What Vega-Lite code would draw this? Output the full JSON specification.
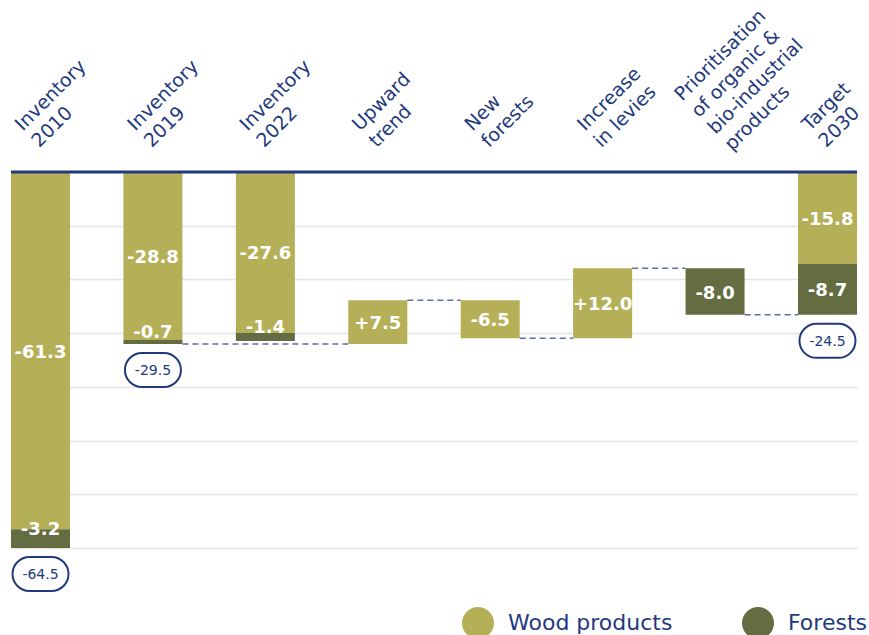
{
  "$schema": "https://vega.github.io/schema/vega-lite/v6.json",
  "autosize": {"type": "none"},
  "width": 846,
  "height": 376,
  "padding": {"left": 11, "top": 172, "right": 12, "bottom": 87},
  "background": "white",
  "config": {
    "view": {"stroke": null},
    "font": "DejaVu Sans",
    "axisX": {
      "orient": "top", "domain": false, "ticks": false, "tickSize": 0, "grid": false,
      "labelAngle": -45, "labelAlign": "left", "labelBaseline": "middle",
      "labelFontSize": 19, "labelLineHeight": 23.5,
      "labelColor": "#22397d", "labelExpr": "split(datum.value, '|')",
      "labelOverlap": false, "labelBound": false, "labelFlush": false, "labelLimit": 0
    },
    "axisY": {
      "labels": false, "ticks": false, "domain": false, "grid": true,
      "gridColor": "#e4e4e4", "gridWidth": 1.5
    }
  },
  "datasets": {
    "segments": [
      {"cat": "Inventory|2010", "series": "Wood products", "start": 0, "end": -61.3, "label": "-61.3", "small": false},
      {"cat": "Inventory|2010", "series": "Forests", "start": -61.3, "end": -64.5, "label": "-3.2", "small": true},
      {"cat": "Inventory|2019", "series": "Wood products", "start": 0, "end": -28.8, "label": "-28.8", "small": false},
      {"cat": "Inventory|2019", "series": "Forests", "start": -28.8, "end": -29.5, "label": "-0.7", "small": true},
      {"cat": "Inventory|2022", "series": "Wood products", "start": 0, "end": -27.6, "label": "-27.6", "small": false},
      {"cat": "Inventory|2022", "series": "Forests", "start": -27.6, "end": -29.0, "label": "-1.4", "small": true},
      {"cat": "Upward|trend", "series": "Wood products", "start": -29.5, "end": -22.0, "label": "+7.5", "small": false},
      {"cat": "New|forests", "series": "Wood products", "start": -22.0, "end": -28.5, "label": "-6.5", "small": false},
      {"cat": "Increase|in levies", "series": "Wood products", "start": -28.5, "end": -16.5, "label": "+12.0", "small": false},
      {"cat": "Prioritisation|of organic &|bio-industrial|products", "series": "Forests", "start": -16.5, "end": -24.5, "label": "-8.0", "small": false},
      {"cat": "Target|2030", "series": "Wood products", "start": 0, "end": -15.8, "label": "-15.8", "small": false},
      {"cat": "Target|2030", "series": "Forests", "start": -15.8, "end": -24.5, "label": "-8.7", "small": false}
    ],
    "links": [
      {"from": "Inventory|2019", "to": "Upward|trend", "v": -29.5},
      {"from": "Upward|trend", "to": "New|forests", "v": -22.0},
      {"from": "New|forests", "to": "Increase|in levies", "v": -28.5},
      {"from": "Increase|in levies", "to": "Prioritisation|of organic &|bio-industrial|products", "v": -16.5},
      {"from": "Prioritisation|of organic &|bio-industrial|products", "to": "Target|2030", "v": -24.5}
    ],
    "totals": [
      {"cat": "Inventory|2010", "total": -64.5, "label": "-64.5"},
      {"cat": "Inventory|2019", "total": -29.5, "label": "-29.5"},
      {"cat": "Target|2030", "total": -24.5, "label": "-24.5"}
    ],
    "zero": [{"v": 0}]
  },
  "layer": [
    {
      "data": {"name": "segments"},
      "mark": {"type": "bar"},
      "encoding": {
        "x": {
          "field": "cat", "type": "nominal", "title": null,
          "scale": {"domain": ["Inventory|2010", "Inventory|2019", "Inventory|2022", "Upward|trend", "New|forests", "Increase|in levies", "Prioritisation|of organic &|bio-industrial|products", "Target|2030"], "paddingInner": 0.475, "paddingOuter": 0},
          "axis": {
            "labelOffset": {"condition": {"test": "indexof(datum.value, 'Prioritisation') == 0", "value": -37}, "value": -22},
            "labelPadding": {"condition": {"test": "indexof(datum.value, 'Prioritisation') == 0", "value": 75}, "value": 45}
          }
        },
        "y": {
          "field": "start", "type": "quantitative", "title": null,
          "scale": {"domain": [-64.5, 0], "nice": false, "zero": false},
          "axis": {"values": [-9.2143, -18.4286, -27.6429, -36.8571, -46.0714, -55.2857, -64.5]}
        },
        "y2": {"field": "end"},
        "color": {
          "field": "series", "type": "nominal", "title": null,
          "scale": {"domain": ["Wood products", "Forests"], "range": ["#b5b058", "#646d42"]},
          "legend": {
            "orient": "none", "legendX": 451, "legendY": 435, "direction": "horizontal",
            "symbolType": "circle", "symbolSize": 1024, "symbolStrokeWidth": 0,
            "labelFontSize": 22, "labelColor": "#22397d", "labelOffset": 14, "labelLimit": 0,
            "columnPadding": 69, "labelBaseline": "middle", "padding": 0
          }
        }
      }
    },
    {
      "data": {"name": "links"},
      "mark": {"type": "rule", "color": "#5b6ea6", "strokeWidth": 1.5, "strokeDash": [6, 4]},
      "encoding": {
        "x": {"field": "from", "type": "nominal", "bandPosition": 1, "title": null},
        "x2": {"field": "to", "bandPosition": 0},
        "y": {"field": "v", "type": "quantitative", "title": null, "axis": {"values": [-9.2143, -18.4286, -27.6429, -36.8571, -46.0714, -55.2857, -64.5]}}
      }
    },
    {
      "data": {"name": "zero"},
      "mark": {"type": "rule", "color": "#22397d", "strokeWidth": 3},
      "encoding": {
        "y": {"field": "v", "type": "quantitative", "title": null, "axis": {"values": [-9.2143, -18.4286, -27.6429, -36.8571, -46.0714, -55.2857, -64.5]}}
      }
    },
    {
      "data": {"name": "segments"},
      "transform": [
        {"filter": "!datum.small"},
        {"calculate": "(datum.start + datum.end) / 2", "as": "mid"}
      ],
      "mark": {"type": "text", "color": "white", "fontSize": 18, "fontWeight": "bold", "baseline": "middle", "align": "center", "dy": 2},
      "encoding": {
        "x": {"field": "cat", "type": "nominal", "title": null},
        "y": {"field": "mid", "type": "quantitative", "title": null, "axis": {"values": [-9.2143, -18.4286, -27.6429, -36.8571, -46.0714, -55.2857, -64.5]}},
        "text": {"field": "label", "type": "nominal"}
      }
    },
    {
      "data": {"name": "segments"},
      "transform": [
        {"filter": "datum.small"},
        {"calculate": "(datum.start + datum.end) / 2", "as": "mid"}
      ],
      "mark": {"type": "text", "color": "white", "fontSize": 18, "fontWeight": "bold", "baseline": "middle", "align": "center", "dy": -9},
      "encoding": {
        "x": {"field": "cat", "type": "nominal", "title": null},
        "y": {"field": "mid", "type": "quantitative", "title": null, "axis": {"values": [-9.2143, -18.4286, -27.6429, -36.8571, -46.0714, -55.2857, -64.5]}},
        "text": {"field": "label", "type": "nominal"}
      }
    },
    {
      "data": {"name": "totals"},
      "mark": {
        "type": "point",
        "shape": "M -0.393 -0.607 L 0.393 -0.607 A 0.607 0.607 0 0 1 0.393 0.607 L -0.393 0.607 A 0.607 0.607 0 0 1 -0.393 -0.607 Z",
        "size": 3136, "filled": true, "fill": "white", "stroke": "#22397d", "strokeWidth": 2, "opacity": 1, "yOffset": 26
      },
      "encoding": {
        "x": {"field": "cat", "type": "nominal", "title": null},
        "y": {"field": "total", "type": "quantitative", "title": null, "axis": {"values": [-9.2143, -18.4286, -27.6429, -36.8571, -46.0714, -55.2857, -64.5]}}
      }
    },
    {
      "data": {"name": "totals"},
      "mark": {"type": "text", "color": "#22397d", "fontSize": 14, "baseline": "middle", "align": "center", "dy": 27},
      "encoding": {
        "x": {"field": "cat", "type": "nominal", "title": null},
        "y": {"field": "total", "type": "quantitative", "title": null, "axis": {"values": [-9.2143, -18.4286, -27.6429, -36.8571, -46.0714, -55.2857, -64.5]}},
        "text": {"field": "label", "type": "nominal"}
      }
    }
  ]
}
